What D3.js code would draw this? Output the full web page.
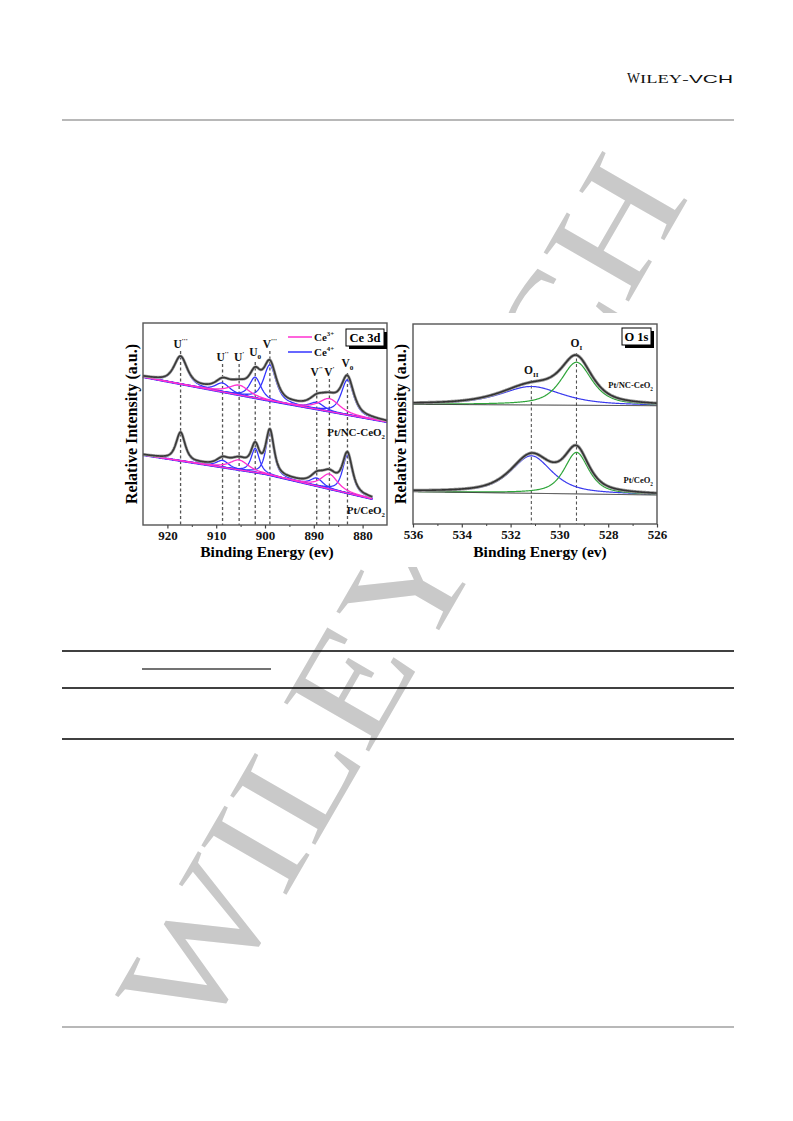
<!DOCTYPE html>
<html><head><meta charset="utf-8">
<script src="https://cdn.jsdelivr.net/npm/d3@7"></script>
<style>
html,body{margin:0;padding:0;background:#fff;}
svg{display:block;}
text{font-family:"Liberation Serif","Times New Roman",serif;}
</style></head>
<body>
<script>
// ---------------- DATA ----------------
// Ce 3d peak components (binding energy, eV)
const ceCenters = [917.3, 908.7, 905.3, 902.0, 899.0, 889.4, 886.8, 883.1];
const ceBase    = ["U", "U", "U", "U", "V", "V", "V", "V"];
const ceSup     = ["'''", "''", "'", "", "'''", "''", "'", ""];
const ceSub     = ["", "", "", "0", "", "", "", "0"];
const ceState   = ["Ce4+", "Ce4+", "Ce3+", "Ce4+", "Ce4+", "Ce4+", "Ce3+", "Ce4+"];
// Pt/NC-CeO2 (upper spectrum)
const ceHeightNC = [27, 9, 10, 21, 36, 7, 13, 35];
const ceFwhmNC   = [3.2, 3.5, 5.0, 2.8, 3.0, 3.5, 5.0, 3.0];
const ceBgE_NC   = [925, 900, 875];
const ceBgV_NC   = [148, 125, 103];
// Pt/CeO2 (lower spectrum)
const ceHeightPt = [28, 7, 10, 24, 43, 8, 15, 38];
const ceFwhmPt   = [2.2, 3.0, 4.5, 2.0, 2.0, 3.0, 4.0, 2.4];
const ceBgE_Pt   = [925, 900, 878];
const ceBgV_Pt   = [70, 51, 26];
const ceTicks = [920, 910, 900, 890, 880];
const ceMinor = [915, 905, 895, 885];

// O 1s components
const oCenters = [531.15, 529.3];
const oNames   = ["II", "I"];
const oHeightNC = [18.5, 43];
const oFwhmNC   = [3.0, 1.5];
const oBgE_NC   = [536, 526];
const oBgV_NC   = [119.7, 118.3];
const oHeightPt = [37.5, 41.5];
const oFwhmPt   = [2.0, 1.2];
const oBgE_Pt   = [536, 526];
const oBgV_Pt   = [32.3, 29];
const oTicks = [536, 534, 532, 530, 528, 526];
const oMinor = [535, 533, 531, 529, 527];

// ---------------- HELPERS ----------------
function pv(E, c, h, fwhm) {
  const g = fwhm / 2, d = E - c;
  const L = 1 / (1 + (d / g) * (d / g));
  const G = Math.exp(-4 * Math.LN2 * (d / fwhm) * (d / fwhm));
  return h * (0.7 * L + 0.3 * G);
}
function bgAt(E, es, vs) {
  return d3.scaleLinear().domain(es).range(vs)(E);
}

const W = 793, H = 1121;
const svg = d3.select("body").append("svg").attr("width", W).attr("height", H);

// ---------------- PAGE DECOR ----------------
svg.append("text").attr("x", 445).attr("y", 620)
  .attr("transform", "rotate(-60 445 620)")
  .attr("text-anchor", "middle")
  .attr("font-size", 150)
  .attr("textLength", 980).attr("lengthAdjust", "spacingAndGlyphs")
  .attr("fill", "#c9c9c9")
  .style("font-family", "'Liberation Serif', serif")
  .text("WILEY-VCH");

function hdrText(x, w, size, txt, fam) {
  svg.append("text").attr("x", x).attr("y", 83).attr("font-size", size).attr("fill", "#111")
    .attr("textLength", w).attr("lengthAdjust", "spacingAndGlyphs")
    .style("font-family", fam).text(txt);
}
hdrText(627, 13, 14.5, "W", "'Liberation Serif', serif");
hdrText(640, 42, 11.5, "ILEY", "'Liberation Serif', serif");
hdrText(682, 51, 11.5, "-VCH", "'Liberation Sans', Arial, sans-serif");

svg.append("line").attr("x1", 62).attr("x2", 734).attr("y1", 120).attr("y2", 120).attr("stroke", "#b8b8b8").attr("stroke-width", 2);
svg.append("line").attr("x1", 62).attr("x2", 734).attr("y1", 1027).attr("y2", 1027).attr("stroke", "#b8b8b8").attr("stroke-width", 2);

[651, 688, 739].forEach(y => svg.append("line").attr("x1", 62).attr("x2", 734).attr("y1", y).attr("y2", y).attr("stroke", "#000").attr("stroke-width", 1.3));
svg.append("line").attr("x1", 142).attr("x2", 271).attr("y1", 669).attr("y2", 669).attr("stroke", "#444").attr("stroke-width", 1.6);

// figure background
svg.append("rect").attr("x", 118).attr("y", 313).attr("width", 556).attr("height", 254).attr("fill", "#fff");

// ---------------- PANEL HELPERS ----------------
function label(g, x, y, base, sup, sub, size, anchor) {
  const t = g.append("text").attr("x", x).attr("y", y).attr("font-size", size)
    .attr("font-weight", "bold").attr("text-anchor", anchor || "middle").attr("fill", "#111");
  t.append("tspan").text(base);
  if (sup) t.append("tspan").attr("font-size", size * 0.62).attr("dy", -size * 0.42).text(sup);
  if (sub) t.append("tspan").attr("font-size", size * 0.62).attr("dy", size * 0.3).text(sub);
  return t;
}
function frame(g, x, y) {
  const [x0, x1] = x.range(), [y0, y1] = y.range();
  g.append("rect").attr("x", x0).attr("y", y1).attr("width", x1 - x0).attr("height", y0 - y1)
    .attr("fill", "none").attr("stroke", "#555").attr("stroke-width", 1.4);
}
function axes(g, x, y, ticks, minor) {
  const y0 = y.range()[0];
  const ax = g.append("g").attr("transform", `translate(0,${y0})`)
    .call(d3.axisBottom(x).tickValues(ticks).tickSize(3.5).tickFormat(d3.format("d")))
    .attr("font-family", "'Liberation Serif', serif").attr("font-size", 13).attr("font-weight", "bold");
  ax.select(".domain").remove();
  ax.selectAll("line").attr("stroke", "#444").attr("stroke-width", 1.2);
  ax.selectAll("text").attr("fill", "#111").attr("dy", null).attr("y", 14.5);
  const mx = g.append("g").attr("transform", `translate(0,${y0})`)
    .call(d3.axisBottom(x).tickValues(minor).tickSize(2).tickFormat(""));
  mx.select(".domain").remove();
  mx.selectAll("line").attr("stroke", "#444").attr("stroke-width", 1);
}
function boxLabel(g, x, y, w, h, txt) {
  g.append("rect").attr("x", x + 3).attr("y", y + 3).attr("width", w).attr("height", h).attr("fill", "#000");
  g.append("rect").attr("x", x).attr("y", y).attr("width", w).attr("height", h).attr("fill", "#fff").attr("stroke", "#000").attr("stroke-width", 1);
  g.append("text").attr("x", x + w / 2).attr("y", y + h / 2 + 4.5).attr("text-anchor", "middle")
    .attr("font-size", 12.5).attr("font-weight", "bold").text(txt);
}

// ---------------- Ce 3d PANEL ----------------
const gC = svg.append("g");
const xC = d3.scaleLinear().domain([925, 875]).range([143, 387]);
const yC = d3.scaleLinear().domain([0, 202]).range([525, 323]);
const ceLabelLevel = [177, 164, 164, 169, 177, 149, 149, 158];

ceCenters.forEach((c, i) => {
  const top = yC(ceLabelLevel[i]) + (ceSub[i] ? 6 : 3);
  gC.append("line").attr("x1", xC(c)).attr("x2", xC(c)).attr("y1", top).attr("y2", yC(0))
    .attr("stroke", "#555").attr("stroke-width", 1.3).attr("stroke-dasharray", "3,2.5");
  label(gC, xC(c), yC(ceLabelLevel[i]), ceBase[i], ceSup[i], ceSub[i], 11.5);
});

function drawCe(heights, fwhms, bgE, bgV, eStart, eEnd) {
  const Es = d3.range(eStart, eEnd - 0.001, -0.1);
  const line = d3.line().x(d => xC(d[0])).y(d => yC(d[1]));
  const bg = E => bgAt(E, bgE, bgV);
  gC.append("path").attr("d", line(Es.map(E => [E, bg(E)])))
    .attr("fill", "none").attr("stroke", "#3d35f0").attr("stroke-width", 2.2);
  ["Ce4+", "Ce3+"].forEach(st => {
    ceCenters.forEach((c, i) => {
      if (ceState[i] !== st) return;
      gC.append("path").attr("d", line(Es.map(E => [E, bg(E) + pv(E, c, heights[i], fwhms[i])])))
        .attr("fill", "none").attr("stroke", st === "Ce4+" ? "#3535ff" : "#ff30d0").attr("stroke-width", 1.3);
    });
  });
  const env = Es.map(E => [E, bg(E) + d3.sum(ceCenters, (c, i) => pv(E, c, heights[i], fwhms[i]))]);
  gC.append("path").attr("d", line(env)).attr("fill", "none").attr("stroke", "#aaa").attr("stroke-width", 3);
  gC.append("path").attr("d", line(env)).attr("fill", "none").attr("stroke", "#3a3a3a").attr("stroke-width", 1.7);
}
drawCe(ceHeightNC, ceFwhmNC, ceBgE_NC, ceBgV_NC, 925, 875);
drawCe(ceHeightPt, ceFwhmPt, ceBgE_Pt, ceBgV_Pt, 925, 878);

frame(gC, xC, yC);
axes(gC, xC, yC, ceTicks, ceMinor);

const lg = [["Ce", "3+", "#ff30d0", 337], ["Ce", "4+", "#3535ff", 352]];
lg.forEach(d => {
  gC.append("line").attr("x1", 288).attr("x2", 312).attr("y1", d[3]).attr("y2", d[3]).attr("stroke", d[2]).attr("stroke-width", 1.5);
  label(gC, 314, d[3] + 4, d[0], d[1], "", 11, "start");
});
boxLabel(gC, 346, 329, 38, 17, "Ce 3d");
label(gC, 385, 436, "Pt/NC-CeO", "", "2", 11, "end");
label(gC, 385, 514, "Pt/CeO", "", "2", 11, "end");
gC.append("text").attr("x", 267).attr("y", 557).attr("text-anchor", "middle")
  .attr("font-size", 15.5).attr("font-weight", "bold").text("Binding Energy (ev)");
gC.append("text").attr("transform", "translate(137,424) rotate(-90)").attr("text-anchor", "middle")
  .attr("font-size", 16).attr("font-weight", "bold").text("Relative Intensity (a.u.)");

// ---------------- O 1s PANEL ----------------
const gO = svg.append("g");
const xO = d3.scaleLinear().domain([536, 526]).range([413, 657]);
const yO = d3.scaleLinear().domain([0, 200]).range([524, 324]);
const oLabelLevel = [150, 177];

oCenters.forEach((c, i) => {
  gO.append("line").attr("x1", xO(c)).attr("x2", xO(c)).attr("y1", yO(oLabelLevel[i]) + 6).attr("y2", yO(0))
    .attr("stroke", "#555").attr("stroke-width", 1.1).attr("stroke-dasharray", "3,2.5");
  label(gO, xO(c), yO(oLabelLevel[i]), "O", "", oNames[i], 11.5);
});

function drawO(heights, fwhms, bgE, bgV) {
  const Es = d3.range(536, 525.999, -0.02);
  const line = d3.line().x(d => xO(d[0])).y(d => yO(d[1]));
  const bg = E => bgAt(E, bgE, bgV);
  const colors = ["#3a3aee", "#2fa53a"];
  oCenters.forEach((c, i) => {
    gO.append("path").attr("d", line(Es.map(E => [E, bg(E) + pv(E, c, heights[i], fwhms[i])])))
      .attr("fill", "none").attr("stroke", colors[i]).attr("stroke-width", 1.2);
  });
  gO.append("path").attr("d", line(Es.map(E => [E, bg(E)])))
    .attr("fill", "none").attr("stroke", "#222").attr("stroke-width", 1);
  const env = Es.map(E => [E, bg(E) + d3.sum(oCenters, (c, i) => pv(E, c, heights[i], fwhms[i]))]);
  gO.append("path").attr("d", line(env)).attr("fill", "none").attr("stroke", "#999").attr("stroke-width", 3.2);
  gO.append("path").attr("d", line(env)).attr("fill", "none").attr("stroke", "#333").attr("stroke-width", 1.6);
}
drawO(oHeightNC, oFwhmNC, oBgE_NC, oBgV_NC);
drawO(oHeightPt, oFwhmPt, oBgE_Pt, oBgV_Pt);

frame(gO, xO, yO);
axes(gO, xO, yO, oTicks, oMinor);
boxLabel(gO, 622, 328, 29, 17, "O 1s");
label(gO, 653, 388, "Pt/NC-CeO", "", "2", 8.5, "end");
label(gO, 653, 483, "Pt/CeO", "", "2", 8.5, "end");
gO.append("text").attr("x", 540).attr("y", 557).attr("text-anchor", "middle")
  .attr("font-size", 15.5).attr("font-weight", "bold").text("Binding Energy (ev)");
gO.append("text").attr("transform", "translate(406,424) rotate(-90)").attr("text-anchor", "middle")
  .attr("font-size", 16).attr("font-weight", "bold").text("Relative Intensity (a.u.)");
</script>
</body></html>
